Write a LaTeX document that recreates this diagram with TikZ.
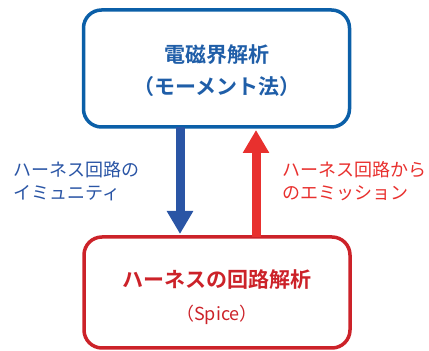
\documentclass[tikz,border=0pt]{standalone}
\usepackage{fontspec}
\setmainfont{Noto Sans CJK JP}
\newfontfamily\jpb{Noto Sans CJK JP Bold}
\usetikzlibrary{arrows.meta}
\definecolor{boxblue}{HTML}{0B5FA8}
\definecolor{txtblue}{HTML}{1F5EA8}
\definecolor{arrblue}{HTML}{2A55A5}
\definecolor{boxred}{HTML}{CC2229}
\definecolor{arrred}{HTML}{E8302E}
\tikzset{
  panel/.style={draw, line width=3.5pt, rounded corners=18pt, minimum width=266pt, inner sep=0pt},
  flowarrow/.style={line width=9pt, -{Triangle[width=25pt,length=23pt]}},
  lbl/.style={anchor=west, align=left, font=\fontsize{18}{23}\selectfont, inner sep=0pt}
}
\begin{document}
\begin{tikzpicture}[x=1pt,y=1pt]
\useasboundingbox (0,0) rectangle (429,351);
\node[panel, draw=boxblue, minimum height=117pt] (em) at (216.5,282.5) {};
\node[panel, draw=boxred, minimum height=111pt] (spice) at (217,58.5) {};
\node[text=txtblue, font=\jpb\fontsize{21}{24}\selectfont] (t1) at (217,296) {電磁界解析};
\node[text=txtblue, font=\jpb\fontsize{21}{24}\selectfont] (t2) at (217,264) {（モーメント法）};
\node[text=boxred, font=\jpb\fontsize{21}{24}\selectfont] (b1) at (217,71) {ハーネスの回路解析};
\node[text=boxred, font=\fontsize{18}{22}\selectfont] (b2) at (217,36) {（Spice）};
\coordinate (dtop) at (180,224);
\coordinate (dbot) at (180,117);
\coordinate (utop) at (256,221);
\coordinate (ubot) at (256,114);
\draw[flowarrow, draw=arrblue, fill=arrblue] (dtop) -- (dbot);
\draw[flowarrow, draw=arrred, fill=arrred] (ubot) -- (utop);
\node[lbl, text=arrblue] (la) at (13,170) {ハーネス回路の\\イミュニティ};
\node[lbl, text=arrred] (lb) at (282,170) {ハーネス回路から\\のエミッション};
\end{tikzpicture}
\end{document}
